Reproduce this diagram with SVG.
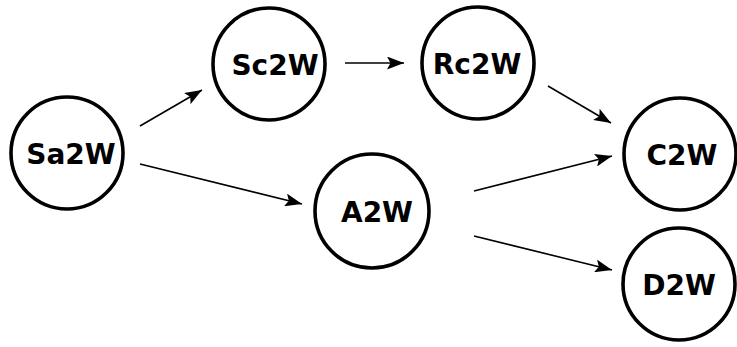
<svg xmlns="http://www.w3.org/2000/svg" width="737" height="347" viewBox="0 0 737 347">
  <style>
    .node circle { fill: #ffffff; stroke: #000000; stroke-width: 3.6; }
    .node text { font-family: "DejaVu Sans", sans-serif; font-weight: bold; font-size: 28px; text-anchor: middle; fill: #000000; }
    .edge { stroke: #000000; stroke-width: 1.6; fill: none; marker-end: url(#arrow); }
  </style>
  <defs>
    <marker id="arrow" markerUnits="userSpaceOnUse" markerWidth="19" markerHeight="13" refX="17" refY="6.5" orient="auto">
      <path d="M0,0 L17,6.5 L0,13 L3.5,6.5 Z" fill="#000000"/>
    </marker>
  </defs>
  <rect width="737" height="347" fill="#ffffff"/>

  <g id="connectors">
    <line class="edge" x1="140" y1="126" x2="202" y2="90"/>
    <line class="edge" x1="345" y1="63" x2="404" y2="63"/>
    <line class="edge" x1="548" y1="86" x2="611" y2="123"/>
    <line class="edge" x1="140" y1="164" x2="302" y2="204"/>
    <line class="edge" x1="474" y1="191" x2="612" y2="156"/>
    <line class="edge" x1="474" y1="236" x2="612" y2="270"/>
  </g>

  <g id="Sa2W" class="node">
    <circle cx="67" cy="153" r="56"/>
    <text x="71" y="164">Sa2W</text>
  </g>
  <g id="Sc2W" class="node">
    <circle cx="269" cy="64" r="56"/>
    <text x="275" y="75">Sc2W</text>
  </g>
  <g id="Rc2W" class="node">
    <circle cx="478" cy="63" r="56"/>
    <text x="477" y="74">Rc2W</text>
  </g>
  <g id="A2W" class="node">
    <circle cx="372" cy="211" r="57"/>
    <text x="377" y="222">A2W</text>
  </g>
  <g id="C2W" class="node">
    <circle cx="680" cy="154" r="56"/>
    <text x="682" y="165">C2W</text>
  </g>
  <g id="D2W" class="node">
    <circle cx="679" cy="284" r="56"/>
    <text x="679" y="295">D2W</text>
  </g>
</svg>
